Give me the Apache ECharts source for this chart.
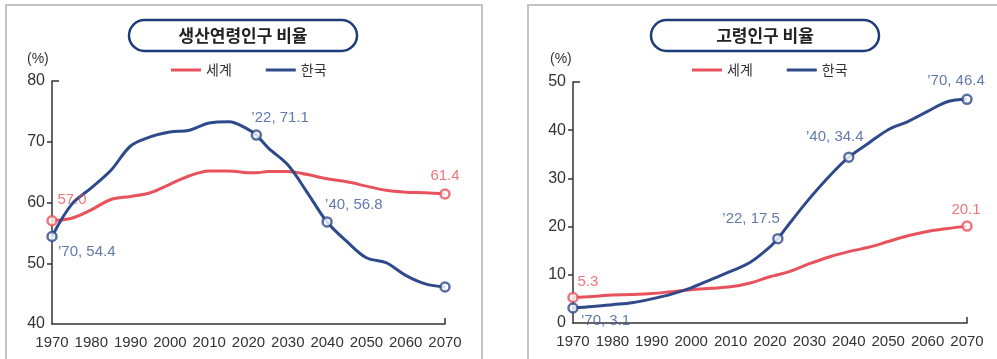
<!DOCTYPE html>
<html>
<head>
<meta charset="utf-8">
<script src="https://cdn.jsdelivr.net/npm/echarts@6/dist/echarts.min.js"></script>
<style>
  html, body { margin: 0; padding: 0; background: #ffffff; }
  #chart { width: 997px; height: 359px; }
</style>
</head>
<body>
<div id="chart"></div>
<script>
// 연도 (5년 간격 + 2022년 기준점)
const years = [1970, 1975, 1980, 1985, 1990, 1995, 2000, 2005, 2010, 2015, 2020, 2022,
               2025, 2030, 2035, 2040, 2045, 2050, 2055, 2060, 2065, 2070];

// 생산연령인구 비율 (%)
const workWorld = [57.0, 57.4, 58.8, 60.5, 61.0, 61.6, 63.0, 64.4, 65.2, 65.2, 64.9, 64.9,
                   65.1, 65.1, 64.6, 63.9, 63.4, 62.7, 62.0, 61.7, 61.6, 61.4];
const workKorea = [54.4, 59.7, 62.4, 65.3, 69.3, 70.8, 71.6, 71.9, 73.1, 73.3, 72.0, 71.1,
                   69.0, 66.2, 61.6, 56.8, 53.6, 50.9, 50.1, 48.0, 46.6, 46.1];

// 고령인구 비율 (%)
const elderWorld = [5.3, 5.5, 5.8, 5.9, 6.1, 6.5, 6.9, 7.2, 7.5, 8.3, 9.6, 10.0,
                    10.7, 12.3, 13.7, 14.8, 15.7, 16.9, 18.1, 19.0, 19.6, 20.1];
const elderKorea = [3.1, 3.4, 3.8, 4.2, 5.0, 6.0, 7.3, 9.0, 10.7, 12.6, 15.8, 17.5,
                    20.7, 25.8, 30.4, 34.4, 37.3, 40.1, 41.8, 43.9, 45.9, 46.4];

const workTicks = [40, 50, 60, 70, 80];
const elderTicks = [0, 10, 20, 30, 40, 50];
const yearTicks = [1970, 1980, 1990, 2000, 2010, 2020, 2030, 2040, 2050, 2060, 2070];

const seriesNames = ['세계', '한국'];
const titles = ['생산연령인구 비율', '고령인구 비율'];
const unitText = '(%)';

// 원으로 강조하는 연도
const worldMarkYears = [1970, 2070];
const koreaMarkYears = [1970, 2022, 2040, 2070];

const RED = '#e8525c';
const BLUE = '#2f4a8b';
const BLUE_TEXT = '#3a5797';
const AXIS = '#333333';
const NUM_FONT = "'Liberation Sans', Arial, sans-serif";
const KR_FONT = "'Noto Sans CJK KR', 'Noto Sans', sans-serif";

const pairs = (vals) => years.map((y, i) => [y, vals[i]]);
const valueAt = (vals, yr) => vals[years.indexOf(yr)];

// 강조점 라벨 배치 (문구 오프셋, 정렬)
const labelPlacement = {
  workWorld:  { 1970: { align: 'center', offset: [20, -21] }, 2070: { align: 'center', offset: [0, -18] } },
  workKorea:  { 1970: { align: 'left', offset: [6, 15] }, 2022: { align: 'left', offset: [-5, -17] },
                2040: { align: 'left', offset: [-2, -17] } },
  elderWorld: { 1970: { align: 'center', offset: [15, -16] }, 2070: { align: 'center', offset: [-1, -16] } },
  elderKorea: { 1970: { align: 'left', offset: [8, 13] }, 2022: { align: 'right', offset: [2, -20] },
                2040: { align: 'center', offset: [-14, -20] }, 2070: { align: 'center', offset: [-11, -18] } }
};

function markPoints(key, vals, markYears, textColor, withYear) {
  return markYears.map(yr => {
    const v = valueAt(vals, yr);
    const place = labelPlacement[key][yr];
    const item = { value: [yr, v] };
    if (place) {
      item.label = {
        show: true,
        position: 'inside',
        align: place.align,
        verticalAlign: 'middle',
        offset: place.offset,
        color: textColor,
        fontSize: 15,
        fontFamily: NUM_FONT,
        formatter: withYear
          ? '\u2019' + String(yr).slice(2) + ', ' + v.toFixed(1)
          : v.toFixed(1)
      };
    } else {
      item.label = { show: false };
    }
    return item;
  });
}

function lineSeries(name, vals, color, axisIdx) {
  return {
    name: name,
    type: 'line',
    xAxisIndex: axisIdx,
    yAxisIndex: axisIdx * 2,
    data: pairs(vals),
    smooth: 0.35,
    showSymbol: false,
    lineStyle: { color: color, width: 3 },
    itemStyle: { color: color },
    z: 3,
    animation: false
  };
}

function pointSeries(key, vals, markYears, color, textColor, withYear, axisIdx) {
  return {
    name: key + 'Points',
    type: 'scatter',
    xAxisIndex: axisIdx,
    yAxisIndex: axisIdx * 2,
    data: markPoints(key, vals, markYears, textColor, withYear),
    symbol: 'circle',
    symbolSize: 9,
    itemStyle: { color: '#ffffff', borderColor: color, borderWidth: 2.5 },
    z: 5,
    animation: false
  };
}

function xAxisFor(gridIndex) {
  return {
    gridIndex: gridIndex,
    type: 'value',
    min: yearTicks[0],
    max: yearTicks[yearTicks.length - 1],
    interval: 10,
    axisLine: { show: true, lineStyle: { color: AXIS, width: 1.5 } },
    axisTick: { show: true, inside: true, length: 6, customValues: [yearTicks[yearTicks.length - 1]],
                lineStyle: { color: AXIS, width: 1.5 } },
    axisLabel: { color: AXIS, fontSize: 15, fontFamily: NUM_FONT, margin: 11, formatter: v => String(v) },
    splitLine: { show: false }
  };
}

function yAxesFor(gridIndex, ticks) {
  const lo = ticks[0], hi = ticks[ticks.length - 1];
  return [
    {
      gridIndex: gridIndex,
      type: 'value',
      position: 'left',
      min: lo, max: hi, interval: 10,
      axisLine: { show: true, lineStyle: { color: AXIS, width: 1.5 } },
      axisTick: { show: true, inside: false, length: 5, customValues: ticks.slice(1, -1),
                  lineStyle: { color: AXIS, width: 1.5 } },
      axisLabel: { color: AXIS, fontSize: 16, fontFamily: NUM_FONT, margin: 7 },
      splitLine: { show: false }
    },
    {
      gridIndex: gridIndex,
      type: 'value',
      position: 'left',
      offset: 0,
      min: lo, max: hi, interval: 10,
      axisLine: { show: false },
      axisTick: { show: true, inside: true, length: 7, customValues: [hi],
                  lineStyle: { color: AXIS, width: 1.5 } },
      axisLabel: { show: false },
      splitLine: { show: false }
    }
  ];
}

function legendAt(left) {
  return {
    left: left,
    top: 58,
    icon: 'rect',
    itemWidth: 30,
    itemHeight: 3,
    itemGap: 34,
    selectedMode: false,
    data: seriesNames,
    textStyle: { color: AXIS, fontSize: 14, fontFamily: KR_FONT }
  };
}

function titleBox(cx, text) {
  return {
    type: 'group',
    children: [
      {
        type: 'rect',
        shape: { x: cx - 114, y: 20, width: 228, height: 31, r: 15.5 },
        style: { fill: '#ffffff', stroke: '#1e3d78', lineWidth: 2.5 }
      },
      {
        type: 'text',
        x: cx, y: 36,
        style: {
          text: text, fill: '#222222', fontSize: 17, fontWeight: 'bold',
          fontFamily: KR_FONT, align: 'center', verticalAlign: 'middle'
        }
      }
    ]
  };
}

const chart = echarts.init(document.getElementById('chart'), null, { renderer: 'canvas' });

chart.setOption({
  animation: false,
  backgroundColor: '#ffffff',
  grid: [
    { left: 52, top: 81, width: 393, height: 243 },
    { left: 573, top: 82, width: 394, height: 241 }
  ],
  xAxis: [xAxisFor(0), xAxisFor(1)],
  yAxis: [...yAxesFor(0, workTicks), ...yAxesFor(1, elderTicks)],
  legend: [legendAt(166), legendAt(687)],
  graphic: [
    { type: 'rect', shape: { x: 6, y: 5, width: 476, height: 370 },
      style: { fill: 'none', stroke: '#c4c4c4', lineWidth: 2 }, silent: true },
    { type: 'rect', shape: { x: 528, y: 5, width: 490, height: 370 },
      style: { fill: 'none', stroke: '#c4c4c4', lineWidth: 2 }, silent: true },
    titleBox(243, titles[0]),
    titleBox(765, titles[1]),
    { type: 'text', x: 27, y: 59,
      style: { text: unitText, fill: AXIS, fontSize: 14, fontFamily: NUM_FONT, verticalAlign: 'middle' } },
    { type: 'text', x: 550, y: 59,
      style: { text: unitText, fill: AXIS, fontSize: 14, fontFamily: NUM_FONT, verticalAlign: 'middle' } }
  ],
  series: [
    lineSeries(seriesNames[0], workWorld, RED, 0),
    lineSeries(seriesNames[1], workKorea, BLUE, 0),
    pointSeries('workWorld', workWorld, worldMarkYears, RED, RED, false, 0),
    pointSeries('workKorea', workKorea, koreaMarkYears, BLUE, BLUE_TEXT, true, 0),
    lineSeries(seriesNames[0], elderWorld, RED, 1),
    lineSeries(seriesNames[1], elderKorea, BLUE, 1),
    pointSeries('elderWorld', elderWorld, worldMarkYears, RED, RED, false, 1),
    pointSeries('elderKorea', elderKorea, koreaMarkYears, BLUE, BLUE_TEXT, true, 1)
  ]
});
</script>
</body>
</html>
